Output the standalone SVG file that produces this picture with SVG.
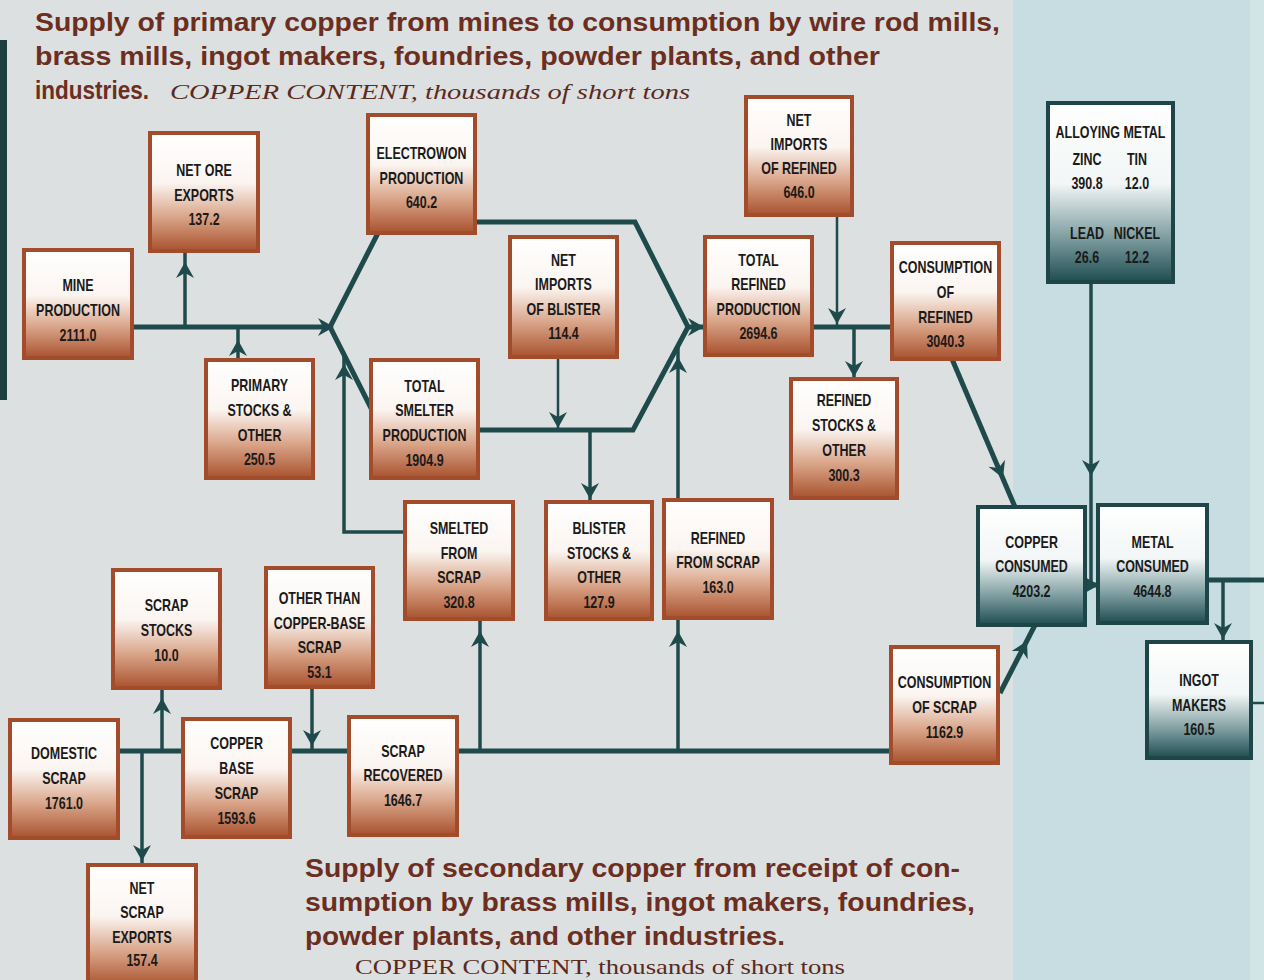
<svg xmlns="http://www.w3.org/2000/svg" xmlns:xlink="http://www.w3.org/1999/xlink" width="1264" height="980" viewBox="0 0 1264 980">
<defs>
  <linearGradient id="gBrown" x1="0" y1="0" x2="0" y2="1">
    <stop offset="0" stop-color="#ffffff"/>
    <stop offset="0.42" stop-color="#fbf5f1"/>
    <stop offset="0.72" stop-color="#d8a286"/>
    <stop offset="1" stop-color="#a8522e"/>
  </linearGradient>
  <linearGradient id="gTeal" x1="0" y1="0" x2="0" y2="1">
    <stop offset="0" stop-color="#ffffff"/>
    <stop offset="0.45" stop-color="#f2f6f6"/>
    <stop offset="0.75" stop-color="#7f9ea1"/>
    <stop offset="1" stop-color="#1e4d51"/>
  </linearGradient>
  <path id="ah" d="M0 0 L-16 -9 L-11 0 L-16 9 Z"/>
</defs>
<style>
  .bx rect { fill: url(#gBrown); stroke: #a34c2c; stroke-width: 4; }
  .tl rect { fill: url(#gTeal); stroke: #1e4649; stroke-width: 4; }
  text.l { font-family: "Liberation Sans", Arial, sans-serif; font-weight: bold; font-size: 16px; fill: #1a1a1a; text-anchor: middle; transform-box: fill-box; transform-origin: center; transform: scaleX(0.78); }
  .title { font-family: "Liberation Sans", Arial, sans-serif; font-weight: bold; font-size: 26px; fill: #6b2e1f; }
  .sub { font-family: "Liberation Serif", "Times New Roman", serif; font-size: 22px; fill: #5a2a1c; }
  #connectors path { stroke: #1f4a4b; fill: none; stroke-linejoin: miter; }
  .k { stroke-width: 5; }
  .m { stroke-width: 3.5; }
  .t { stroke-width: 2.5; }
  #connectors use { fill: #1f4a4b; }
</style>

<!-- background -->
<rect x="0" y="0" width="1264" height="980" fill="#dde0e1"/>
<rect x="1013" y="0" width="251" height="980" fill="#c7dde1"/>
<rect x="1250" y="0" width="14" height="980" fill="#d3e4e6"/>
<rect x="0" y="40" width="7" height="360" fill="#1d3f3f"/>

<!-- titles -->
<g id="title-top">
  <text class="title" x="35" y="31" textLength="965" lengthAdjust="spacingAndGlyphs">Supply of primary copper from mines to consumption by wire rod mills,</text>
  <text class="title" x="35" y="65" textLength="845" lengthAdjust="spacingAndGlyphs">brass mills, ingot makers, foundries, powder plants, and other</text>
  <text class="title" x="35" y="99" textLength="114" lengthAdjust="spacingAndGlyphs">industries.</text>
  <text class="sub" x="170" y="99" font-style="italic" textLength="520" lengthAdjust="spacingAndGlyphs">COPPER CONTENT, thousands of short tons</text>
</g>
<g id="title-bottom">
  <text class="title" x="305" y="877" textLength="655" lengthAdjust="spacingAndGlyphs">Supply of secondary copper from receipt of con-</text>
  <text class="title" x="305" y="911" textLength="670" lengthAdjust="spacingAndGlyphs">sumption by brass mills, ingot makers, foundries,</text>
  <text class="title" x="305" y="945" textLength="480" lengthAdjust="spacingAndGlyphs">powder plants, and other industries.</text>
  <text class="sub" x="355" y="974" textLength="490" lengthAdjust="spacingAndGlyphs">COPPER CONTENT, thousands of short tons</text>
</g>

<!-- connectors -->
<g id="connectors">
  <path class="k" d="M132 327 H332"/>
  <path class="m" d="M185 327 V252"/>
  <path class="m" d="M238 360 V327"/>
  <path class="k" d="M378 233 L330 327 L372 410"/>
  <path class="m" d="M405 532 H344 V356"/>
  <path class="k" d="M475 222 H635 L688 327 H705"/>
  <path class="k" d="M478 430 H633 L688 327"/>
  <path class="t" d="M558 357 V430"/>
  <path class="m" d="M590 430 V502"/>
  <path class="m" d="M678 500 V346"/>
  <path class="k" d="M812 327 H892"/>
  <path class="t" d="M837 215 V327"/>
  <path class="m" d="M854 327 V379"/>
  <path class="k" d="M952 359 L1015 507"/>
  <path class="m" d="M1091 282 V585"/>
  <path class="k" d="M1085 585 H1098"/>
  <path class="k" d="M1000 693 L1035 625"/>
  <path class="k" d="M1207 580 H1264"/>
  <path class="m" d="M1223 580 V642"/>
  <path class="t" d="M1251 703 H1264"/>
  <path class="k" d="M118 751 H183"/>
  <path class="m" d="M162 751 V688"/>
  <path class="m" d="M142 751 V865"/>
  <path class="k" d="M290 751 H349"/>
  <path class="m" d="M312 687 V751"/>
  <path class="k" d="M457 751 H891"/>
  <path class="m" d="M480 751 V619"/>
  <path class="m" d="M678 751 V618"/>

  <use xlink:href="#ah" href="#ah" transform="translate(185,262) rotate(-90)"/>
  <use xlink:href="#ah" href="#ah" transform="translate(238,340) rotate(-90)"/>
  <use xlink:href="#ah" href="#ah" transform="translate(334,327)"/>
  <use xlink:href="#ah" href="#ah" transform="translate(344,364) rotate(-90)"/>
  <use xlink:href="#ah" href="#ah" transform="translate(558,428) rotate(90)"/>
  <use xlink:href="#ah" href="#ah" transform="translate(590,499) rotate(90)"/>
  <use xlink:href="#ah" href="#ah" transform="translate(704,327)"/>
  <use xlink:href="#ah" href="#ah" transform="translate(678,357) rotate(-90)"/>
  <use xlink:href="#ah" href="#ah" transform="translate(837,324) rotate(90)"/>
  <use xlink:href="#ah" href="#ah" transform="translate(854,377) rotate(90)"/>
  <use xlink:href="#ah" href="#ah" transform="translate(1003,478) rotate(66.9)"/>
  <use xlink:href="#ah" href="#ah" transform="translate(1091,476) rotate(90)"/>
  <use xlink:href="#ah" href="#ah" transform="translate(1099,585)"/>
  <use xlink:href="#ah" href="#ah" transform="translate(1027,641) rotate(-62.8)"/>
  <use xlink:href="#ah" href="#ah" transform="translate(1223,639) rotate(90)"/>
  <use xlink:href="#ah" href="#ah" transform="translate(162,698) rotate(-90)"/>
  <use xlink:href="#ah" href="#ah" transform="translate(142,861) rotate(90)"/>
  <use xlink:href="#ah" href="#ah" transform="translate(312,746) rotate(90)"/>
  <use xlink:href="#ah" href="#ah" transform="translate(480,631) rotate(-90)"/>
  <use xlink:href="#ah" href="#ah" transform="translate(678,631) rotate(-90)"/>
</g>

<!-- primary nodes -->
<g id="mine-production" class="bx">
  <rect x="24" y="250" width="108" height="108"/>
  <text class="l" x="78" y="291">MINE</text>
  <text class="l" x="78" y="316">PRODUCTION</text>
  <text class="l" x="78" y="341">2111.0</text>
</g>
<g id="net-ore-exports" class="bx">
  <rect x="150" y="133" width="108" height="118"/>
  <text class="l" x="204" y="176">NET ORE</text>
  <text class="l" x="204" y="201">EXPORTS</text>
  <text class="l" x="204" y="225">137.2</text>
</g>
<g id="electrowon-production" class="bx">
  <rect x="368" y="115" width="107" height="118"/>
  <text class="l" x="421.5" y="159">ELECTROWON</text>
  <text class="l" x="421.5" y="184">PRODUCTION</text>
  <text class="l" x="421.5" y="208">640.2</text>
</g>
<g id="net-imports-blister" class="bx">
  <rect x="510" y="237" width="107" height="120"/>
  <text class="l" x="563.5" y="266">NET</text>
  <text class="l" x="563.5" y="290">IMPORTS</text>
  <text class="l" x="563.5" y="315">OF BLISTER</text>
  <text class="l" x="563.5" y="339">114.4</text>
</g>
<g id="total-refined-production" class="bx">
  <rect x="705" y="237" width="107" height="118"/>
  <text class="l" x="758.5" y="266">TOTAL</text>
  <text class="l" x="758.5" y="290">REFINED</text>
  <text class="l" x="758.5" y="315">PRODUCTION</text>
  <text class="l" x="758.5" y="339">2694.6</text>
</g>
<g id="net-imports-refined" class="bx">
  <rect x="746" y="97" width="106" height="118"/>
  <text class="l" x="799" y="126">NET</text>
  <text class="l" x="799" y="150">IMPORTS</text>
  <text class="l" x="799" y="174">OF REFINED</text>
  <text class="l" x="799" y="198">646.0</text>
</g>
<g id="consumption-refined" class="bx">
  <rect x="892" y="243" width="107" height="116"/>
  <text class="l" x="945.5" y="273">CONSUMPTION</text>
  <text class="l" x="945.5" y="298">OF</text>
  <text class="l" x="945.5" y="323">REFINED</text>
  <text class="l" x="945.5" y="347">3040.3</text>
</g>
<g id="primary-stocks" class="bx">
  <rect x="206" y="360" width="107" height="118"/>
  <text class="l" x="259.5" y="391">PRIMARY</text>
  <text class="l" x="259.5" y="416">STOCKS &amp;</text>
  <text class="l" x="259.5" y="441">OTHER</text>
  <text class="l" x="259.5" y="465">250.5</text>
</g>
<g id="total-smelter-production" class="bx">
  <rect x="371" y="360" width="107" height="118"/>
  <text class="l" x="424.5" y="392">TOTAL</text>
  <text class="l" x="424.5" y="416">SMELTER</text>
  <text class="l" x="424.5" y="441">PRODUCTION</text>
  <text class="l" x="424.5" y="466">1904.9</text>
</g>
<g id="refined-stocks" class="bx">
  <rect x="791" y="379" width="106" height="119"/>
  <text class="l" x="844" y="406">REFINED</text>
  <text class="l" x="844" y="431">STOCKS &amp;</text>
  <text class="l" x="844" y="456">OTHER</text>
  <text class="l" x="844" y="481">300.3</text>
</g>
<g id="smelted-from-scrap" class="bx">
  <rect x="405" y="502" width="108" height="117"/>
  <text class="l" x="459" y="534">SMELTED</text>
  <text class="l" x="459" y="559">FROM</text>
  <text class="l" x="459" y="583">SCRAP</text>
  <text class="l" x="459" y="608">320.8</text>
</g>
<g id="blister-stocks" class="bx">
  <rect x="546" y="502" width="106" height="117"/>
  <text class="l" x="599" y="534">BLISTER</text>
  <text class="l" x="599" y="559">STOCKS &amp;</text>
  <text class="l" x="599" y="583">OTHER</text>
  <text class="l" x="599" y="608">127.9</text>
</g>
<g id="refined-from-scrap" class="bx">
  <rect x="664" y="500" width="108" height="118"/>
  <text class="l" x="718" y="544">REFINED</text>
  <text class="l" x="718" y="568">FROM SCRAP</text>
  <text class="l" x="718" y="593">163.0</text>
</g>
<g id="consumption-scrap" class="bx">
  <rect x="891" y="647" width="107" height="116"/>
  <text class="l" x="944.5" y="688">CONSUMPTION</text>
  <text class="l" x="944.5" y="713">OF SCRAP</text>
  <text class="l" x="944.5" y="738">1162.9</text>
</g>

<!-- teal nodes -->
<g id="alloying-metal" class="tl">
  <rect x="1048" y="103" width="125" height="179"/>
  <text class="l" x="1110.5" y="138">ALLOYING METAL</text>
  <text class="l" x="1087" y="165">ZINC</text>
  <text class="l" x="1137" y="165">TIN</text>
  <text class="l" x="1087" y="189">390.8</text>
  <text class="l" x="1137" y="189">12.0</text>
  <text class="l" x="1087" y="239">LEAD</text>
  <text class="l" x="1137" y="239">NICKEL</text>
  <text class="l" x="1087" y="263">26.6</text>
  <text class="l" x="1137" y="263">12.2</text>
</g>
<g id="copper-consumed" class="tl">
  <rect x="978" y="507" width="107" height="118"/>
  <text class="l" x="1031.5" y="548">COPPER</text>
  <text class="l" x="1031.5" y="572">CONSUMED</text>
  <text class="l" x="1031.5" y="597">4203.2</text>
</g>
<g id="metal-consumed" class="tl">
  <rect x="1098" y="505" width="109" height="118"/>
  <text class="l" x="1152.5" y="548">METAL</text>
  <text class="l" x="1152.5" y="572">CONSUMED</text>
  <text class="l" x="1152.5" y="597">4644.8</text>
</g>
<g id="ingot-makers" class="tl">
  <rect x="1147" y="642" width="104" height="116"/>
  <text class="l" x="1199" y="686">INGOT</text>
  <text class="l" x="1199" y="711">MAKERS</text>
  <text class="l" x="1199" y="735">160.5</text>
</g>

<!-- secondary nodes -->
<g id="scrap-stocks" class="bx">
  <rect x="113" y="570" width="107" height="118"/>
  <text class="l" x="166.5" y="611">SCRAP</text>
  <text class="l" x="166.5" y="636">STOCKS</text>
  <text class="l" x="166.5" y="661">10.0</text>
</g>
<g id="other-than-copper-base" class="bx">
  <rect x="266" y="568" width="107" height="119"/>
  <text class="l" x="319.5" y="604">OTHER THAN</text>
  <text class="l" x="319.5" y="629">COPPER-BASE</text>
  <text class="l" x="319.5" y="653">SCRAP</text>
  <text class="l" x="319.5" y="678">53.1</text>
</g>
<g id="domestic-scrap" class="bx">
  <rect x="10" y="720" width="108" height="118"/>
  <text class="l" x="64" y="759">DOMESTIC</text>
  <text class="l" x="64" y="784">SCRAP</text>
  <text class="l" x="64" y="809">1761.0</text>
</g>
<g id="copper-base-scrap" class="bx">
  <rect x="183" y="719" width="107" height="118"/>
  <text class="l" x="236.5" y="749">COPPER</text>
  <text class="l" x="236.5" y="774">BASE</text>
  <text class="l" x="236.5" y="799">SCRAP</text>
  <text class="l" x="236.5" y="824">1593.6</text>
</g>
<g id="scrap-recovered" class="bx">
  <rect x="349" y="717" width="108" height="118"/>
  <text class="l" x="403" y="757">SCRAP</text>
  <text class="l" x="403" y="781">RECOVERED</text>
  <text class="l" x="403" y="806">1646.7</text>
</g>
<g id="net-scrap-exports" class="bx">
  <rect x="88" y="865" width="108" height="122"/>
  <text class="l" x="142" y="894">NET</text>
  <text class="l" x="142" y="918">SCRAP</text>
  <text class="l" x="142" y="943">EXPORTS</text>
  <text class="l" x="142" y="966">157.4</text>
</g>
</svg>
